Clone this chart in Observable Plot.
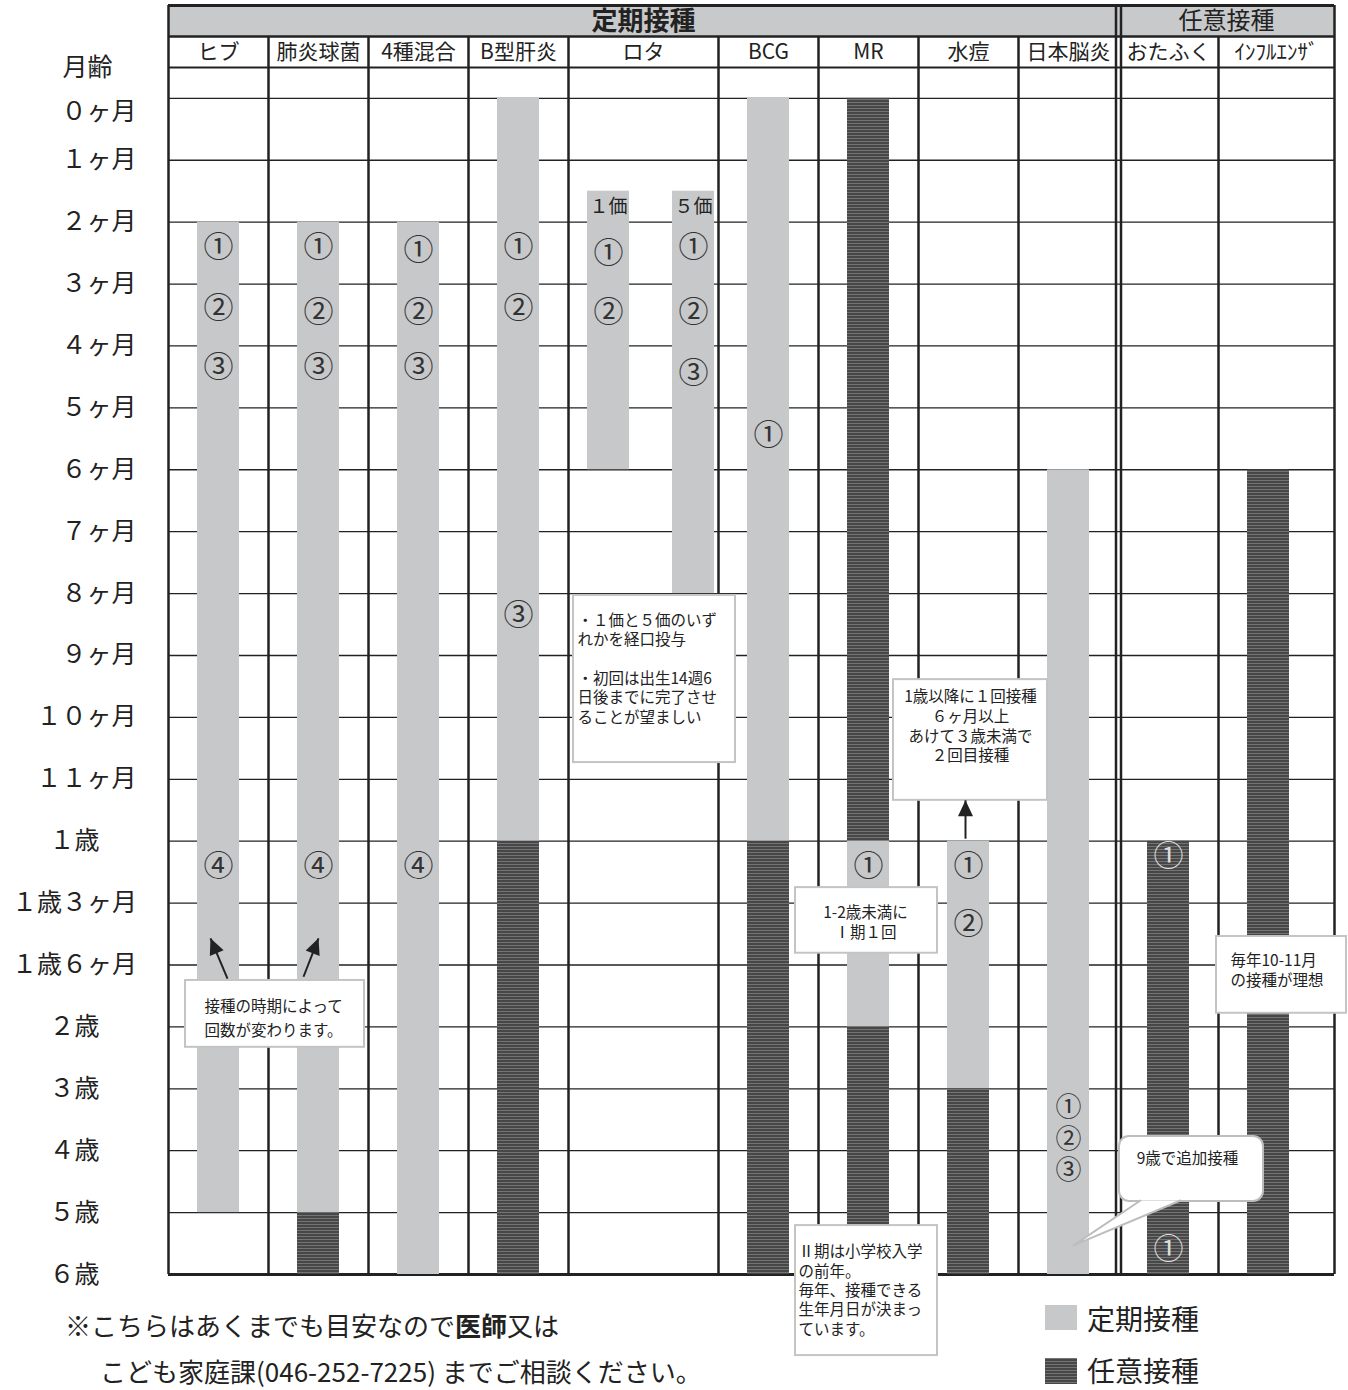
<!DOCTYPE html>
<html>
<head>
<meta charset="utf-8">
<script src="https://cdn.jsdelivr.net/npm/d3@7"></script>
<script src="https://cdn.jsdelivr.net/npm/@observablehq/plot@0.6"></script>
<style>
  body { margin: 0; background: #fff; font-family: "Noto Sans CJK JP", "Noto Sans", sans-serif; color: #222; }
  #wrap { position: relative; width: 1348px; height: 1390px; overflow: hidden; }
  #wrap svg { position: absolute; left: 0; top: 0; }
  .foot { position: absolute; font-size: 26px; line-height: 30px; white-space: nowrap; color: #222; }
  .foot b { font-weight: 700; }
  .lg-box { position: absolute; left: 1045px; width: 32px; height: 25px; }
  .lg-text { position: absolute; left: 1087px; font-size: 28px; line-height: 30px; white-space: nowrap; color: #222; }
</style>
</head>
<body>
<div id="wrap"></div>
<script>
// ---------- data ----------
const ageLabels = ["０ヶ月","１ヶ月","２ヶ月","３ヶ月","４ヶ月","５ヶ月","６ヶ月","７ヶ月","８ヶ月","９ヶ月","１０ヶ月","１１ヶ月","１歳","１歳３ヶ月","１歳６ヶ月","２歳","３歳","４歳","５歳","６歳"];
const vaccines = ["ヒブ","肺炎球菌","4種混合","B型肝炎","ロタ","BCG","MR","水痘","日本脳炎","おたふく","ｲﾝﾌﾙｴﾝｻﾞ"];
const vaccineGroup = [0,0,0,0,0,0,0,0,0,1,1];
const groupNames = ["定期接種","任意接種"];
const trackNames = ["ヒブ","肺炎球菌","4種混合","B型肝炎","１価","５価","BCG","MR","水痘","日本脳炎","おたふく","ｲﾝﾌﾙｴﾝｻﾞ"];
const trackVaccine = [0,1,2,3,4,4,5,6,7,8,9,10];
const valenceTracks = ["１価","５価"];
const valenceAge = 1.75;

// [track, start age index, end age index, kind]
const segments = [
  ["ヒブ",2,18,"定期"],
  ["肺炎球菌",2,18,"定期"],["肺炎球菌",18,19,"任意"],
  ["4種混合",2,19,"定期"],
  ["B型肝炎",0,12,"定期"],["B型肝炎",12,19,"任意"],
  ["１価",1.5,6,"定期"],
  ["５価",1.5,8,"定期"],
  ["BCG",0,12,"定期"],["BCG",12,19,"任意"],
  ["MR",0,12,"任意"],["MR",12,15,"定期"],["MR",15,19,"任意"],
  ["水痘",12,16,"定期"],["水痘",16,19,"任意"],
  ["日本脳炎",6,19,"定期"],
  ["おたふく",12,19,"任意"],
  ["ｲﾝﾌﾙｴﾝｻﾞ",6,19,"任意"]
];

// [track, age index, dose label]
const doses = [
  ["ヒブ",2.4,"①"],["ヒブ",3.4,"②"],["ヒブ",4.35,"③"],["ヒブ",12.4,"④"],
  ["肺炎球菌",2.4,"①"],["肺炎球菌",3.45,"②"],["肺炎球菌",4.35,"③"],["肺炎球菌",12.4,"④"],
  ["4種混合",2.45,"①"],["4種混合",3.45,"②"],["4種混合",4.35,"③"],["4種混合",12.4,"④"],
  ["B型肝炎",2.4,"①"],["B型肝炎",3.4,"②"],["B型肝炎",8.35,"③"],
  ["１価",2.5,"①"],["１価",3.45,"②"],
  ["５価",2.4,"①"],["５価",3.45,"②"],["５価",4.45,"③"],
  ["BCG",5.45,"①"],
  ["MR",12.4,"①"],
  ["水痘",12.4,"①"],["水痘",13.35,"②"],
  ["日本脳炎",16.3,"①"],["日本脳炎",16.82,"②"],["日本脳炎",17.32,"③"],
  ["おたふく",12.25,"①"],["おたふく",18.6,"①"]
];
const packedTrack = "日本脳炎";

// annotation boxes (data units: columns / age rows)
const notes = [
  {x1:4.05, x2:5.67, y1:8.03, y2:10.73, tx:4.09, ty:8.3, anchor:"start", lh:1.25,
   text:"・１価と５価のいず\nれかを経口投与\n\n・初回は出生14週6\n日後までに完了させ\nることが望ましい"},
  {x1:7.25, x2:8.79, y1:9.39, y2:11.34, tx:8.02, ty:9.53, anchor:"middle", lh:1.27,
   text:"1歳以降に１回接種\n６ヶ月以上\nあけて３歳未満で\n２回目接種"},
  {x1:6.27, x2:7.69, y1:12.75, y2:13.81, tx:6.97, ty:13.0, anchor:"middle", lh:1.33,
   text:"1-2歳未満に\nⅠ期１回"},
  {x1:0.17, x2:1.96, y1:14.25, y2:15.33, tx:1.05, ty:14.5, anchor:"middle", lh:1.5,
   text:"接種の時期によって\n回数が変わります。"},
  {x1:6.27, x2:7.69, y1:18.21, y2:20.31, tx:6.30, ty:18.5, anchor:"start", lh:1.25,
   text:"Ⅱ期は小学校入学\nの前年。\n毎年、接種できる\n生年月日が決まっ\nています。"},
  {x1:10.48, x2:11.78, y1:13.54, y2:14.78, tx:10.62, ty:13.79, anchor:"start", lh:1.3,
   text:"毎年10-11月\nの接種が理想"}
];
const bubble = {x1:9.51, x2:10.95, y1:16.77, y2:17.82, tx:10.19, ty:17.04, text:"9歳で追加接種"};
const bubbleTail = [{x:9.72,y:17.805},{x:9.05,y:18.53},{x:10.12,y:17.805}];
const arrows = [
  {x1:7.97, y1:11.96, x2:7.97, y2:11.34},
  {x1:0.59, y1:14.22, x2:0.42, y2:13.57},
  {x1:1.35, y1:14.19, x2:1.50, y2:13.57}
];

// ---------- layout ----------
const W = 1348, H = 1390;
const xMax = 11.66;
const yMin = -1.5, yMax = 19;
const mL = 168, mR = W - 1334, mT = 5, mB = H - 1274;
const LIGHT = "#c7c8ca";
const DARK = "url(#darkfill)";

// column edges (ロタ has two tracks → 1.5 wide)
const colWidths = vaccines.map((v, i) => trackVaccine.filter(t => t === i).length > 1 ? 1.5 : 1);
const colLeft = [];
colWidths.reduce((acc, w, i) => { colLeft[i] = acc; return acc + w; }, 0);
const colRight = colLeft.map((l, i) => i === vaccines.length - 1 ? xMax : l + colWidths[i]);
const colCenter = colLeft.map((l, i) => (l + colRight[i]) / 2);
const trackX = {};
trackNames.forEach((t, i) => {
  const v = trackVaccine[i];
  const siblings = trackNames.filter((_, j) => trackVaccine[j] === v);
  const k = siblings.indexOf(t);
  trackX[t] = siblings.length > 1 ? colLeft[v] + [0.4, 1.25][k] : colLeft[v] + 0.5;
});
const halfBar = 0.21;

const groupSpans = groupNames.map((g, gi) => {
  const idx = vaccines.map((_, i) => i).filter(i => vaccineGroup[i] === gi);
  return {name: g, x1: colLeft[idx[0]], x2: colRight[idx[idx.length - 1]], bold: gi === 0};
});
const splitX = groupSpans[1].x1;
const innerEdges = colLeft.slice(1).filter(x => x !== splitX);

const segData = segments.map(([t, s, e, k]) => ({x1: trackX[t] - halfBar, x2: trackX[t] + halfBar, y1: s, y2: e, kind: k}));
const doseData = doses.map(([t, a, l]) => {
  const seg = segments.find(s => s[0] === t && a >= s[1] && a <= s[2]);
  return {x: trackX[t], y: a, label: l, dark: seg && seg[3] === "任意", packed: t === packedTrack};
});

// pixel <-> data helpers for arrowheads
const sx = d3.scaleLinear([0, xMax], [mL, W - mR]);
const sy = d3.scaleLinear([yMin, yMax], [mT, H - mB]);
const headPts = [];
arrows.forEach((a, i) => {
  const tx = sx(a.x2), ty = sy(a.y2), ox = sx(a.x1), oy = sy(a.y1);
  const len = Math.hypot(tx - ox, ty - oy), ux = (tx - ox) / len, uy = (ty - oy) / len;
  const L = 16, Wd = 7.5;
  const bx = tx - ux * L, by = ty - uy * L;
  [[tx, ty], [bx - uy * Wd, by + ux * Wd], [bx + uy * Wd, by - ux * Wd]].forEach(([px, py]) =>
    headPts.push({id: i, x: sx.invert(px), y: sy.invert(py)}));
});

const FONT = '"Noto Sans CJK JP", "Noto Sans", sans-serif';
const INK = "#222";

const chart = Plot.plot({
  width: W, height: H,
  marginLeft: mL, marginRight: mR, marginTop: mT, marginBottom: mB,
  x: {domain: [0, xMax], axis: null},
  y: {domain: [yMin, yMax], reverse: true, axis: null},
  style: {fontFamily: FONT, color: INK, background: "white", overflow: "visible"},
  marks: [
    // header fill
    Plot.rect(groupSpans, {x1: 0, x2: xMax, y1: -1.5, y2: -1, fill: "#c8c9ca"}),
    // horizontal grid
    Plot.ruleY(d3.range(0, 19), {x1: 0, x2: xMax, stroke: INK, strokeWidth: 1.3}),
    Plot.ruleY([-0.5], {x1: 0, x2: xMax, stroke: INK, strokeWidth: 2}),
    Plot.ruleY([-1], {x1: 0, x2: xMax, stroke: INK, strokeWidth: 2.5}),
    Plot.ruleY([-1.5, 19], {x1: 0, x2: xMax, stroke: INK, strokeWidth: 3}),
    // bars
    Plot.rect(segData.filter(d => d.kind === "定期"), {x1: "x1", x2: "x2", y1: "y1", y2: "y2", fill: LIGHT}),
    Plot.rect(segData.filter(d => d.kind === "任意"), {x1: "x1", x2: "x2", y1: "y1", y2: "y2", fill: DARK}),
    // vertical grid
    Plot.ruleX(innerEdges, {y1: -1, y2: 19, stroke: INK, strokeWidth: 2.5}),
    Plot.ruleX([0, splitX - 0.025, splitX + 0.025, xMax], {y1: -1.5, y2: 19, stroke: INK, strokeWidth: 2.5}),
    // header texts
    Plot.text(groupSpans.filter(d => d.bold), {x: d => (d.x1 + d.x2) / 2, y: -1.25, dy: 0.5, text: "name", fontSize: 26, fontWeight: 700, fill: INK}),
    Plot.text(groupSpans.filter(d => !d.bold), {x: d => (d.x1 + d.x2) / 2, y: -1.25, dy: 0.5, text: "name", fontSize: 24, fill: INK}),
    Plot.text(vaccines, {x: (d, i) => colCenter[i], y: -0.75, dy: 0.5, text: d => d, fontSize: 21, fill: INK}),
    // age labels
    Plot.text(["月齢"], {x: -0.81, y: -0.5, dy: 1, text: d => d, fontSize: 25, fill: INK}),
    Plot.text(ageLabels.slice(0, 12), {x: -0.32, y: (d, i) => i === 0 ? 0.22 : i, text: d => d, textAnchor: "end", fontSize: 25, fill: INK}),
    Plot.text(ageLabels.slice(12), {x: -0.94, y: (d, i) => i + 12, text: d => d, fontSize: 25, fill: INK}),
    // valence labels and dose numbers
    Plot.text(valenceTracks, {x: d => trackX[d], y: valenceAge, text: d => d, fontSize: 19, fill: INK}),
    Plot.text(doseData.filter(d => !d.dark && !d.packed), {x: "x", y: "y", text: "label", fontSize: 30, fill: "#333"}),
    Plot.text(doseData.filter(d => d.packed), {x: "x", y: "y", text: "label", fontSize: 26, fill: "#333"}),
    Plot.text(doseData.filter(d => d.dark), {x: "x", y: "y", text: "label", fontSize: 30, fill: "#dedede"}),
    // annotation boxes
    Plot.rect(notes, {x1: "x1", x2: "x2", y1: "y1", y2: "y2", fill: "white", stroke: "#c4c4c4", strokeWidth: 2}),
    ...notes.map(n => Plot.text([n], {x: "tx", y: "ty", text: "text", textAnchor: n.anchor, lineAnchor: "top", lineHeight: n.lh, fontSize: 15.5, fill: INK})),
    Plot.rect([bubble], {x1: "x1", x2: "x2", y1: "y1", y2: "y2", rx: 10, fill: "white", stroke: "#bdbdbd", strokeWidth: 2}),
    Plot.line(bubbleTail, {x: "x", y: "y", fill: "white", stroke: "#bdbdbd", strokeWidth: 2}),
    Plot.text([bubble], {x: "tx", y: "ty", text: "text", lineAnchor: "top", fontSize: 15.5, fill: INK}),
    // arrows
    Plot.link(arrows, {x1: "x1", y1: "y1", x2: "x2", y2: "y2", stroke: INK, strokeWidth: 2}),
    Plot.line(headPts, {x: "x", y: "y", z: "id", fill: INK, stroke: "none"})
  ]
});

const svg = d3.select(chart);
svg.insert("defs", ":first-child").html(
  '<pattern id="darkfill" patternUnits="userSpaceOnUse" width="8" height="3">' +
  '<rect width="8" height="3" fill="#474747"/>' +
  '<rect y="0" width="8" height="1" fill="#747474"/>' +
  '</pattern>');

const wrap = document.getElementById("wrap");
wrap.appendChild(chart);

// footnote + legend
const footHTML = `
  <div class="foot" style="left:65px;top:1310px">※こちらはあくまでも目安なので<b>医師</b>又は</div>
  <div class="foot" style="left:100px;top:1356px">こども家庭課(046-252-7225) までご相談ください。</div>
  <div class="lg-box" style="top:1305px;background:${LIGHT}"></div>
  <div class="lg-text" style="top:1303px">${groupNames[0]}</div>
  <div class="lg-box" style="top:1358px;height:26px;background:repeating-linear-gradient(#747474 0 1px,#474747 1px 3px)"></div>
  <div class="lg-text" style="top:1355px">${groupNames[1]}</div>`;
wrap.insertAdjacentHTML("beforeend", footHTML);
</script>
</body>
</html>
